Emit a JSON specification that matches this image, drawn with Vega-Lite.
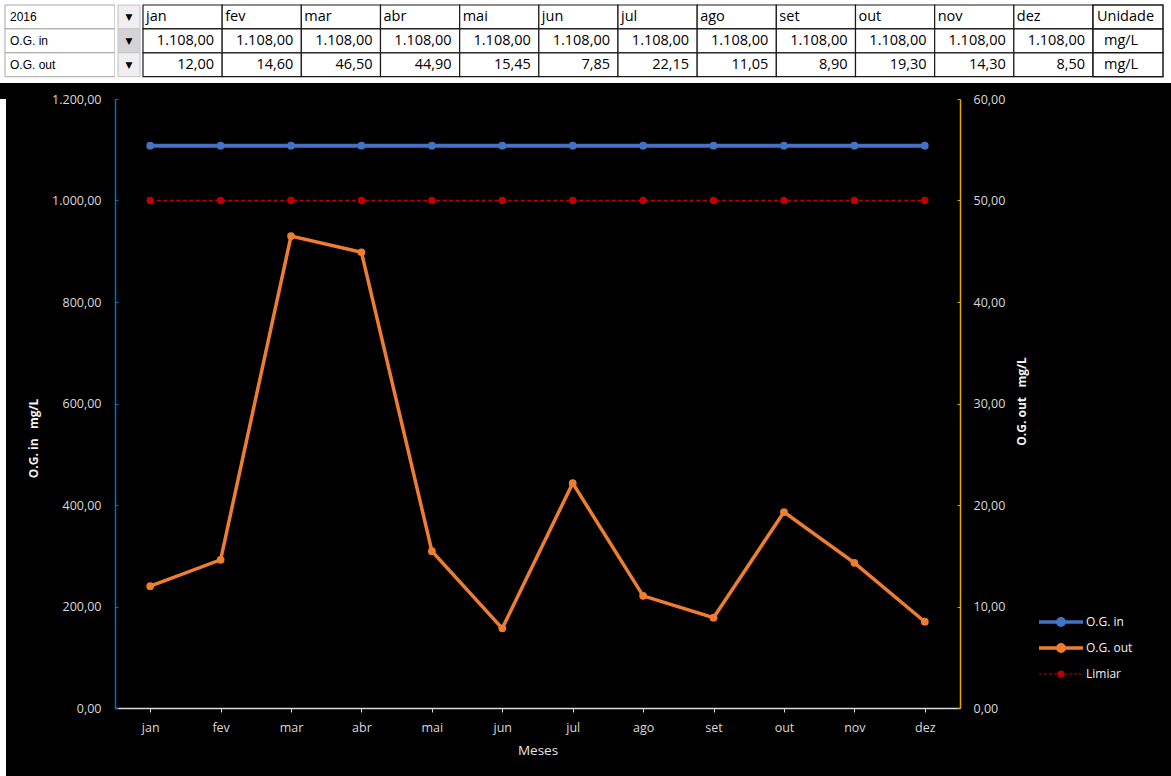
{
  "$schema": "https://vega.github.io/schema/vega-lite/v6.json",
  "background": "black",
  "padding": 0,
  "spacing": 10,
  "datasets": {
    "meses": [
      {"mes": "jan", "og_in": 1108, "og_out": 12.00, "limiar": 50},
      {"mes": "fev", "og_in": 1108, "og_out": 14.60, "limiar": 50},
      {"mes": "mar", "og_in": 1108, "og_out": 46.50, "limiar": 50},
      {"mes": "abr", "og_in": 1108, "og_out": 44.90, "limiar": 50},
      {"mes": "mai", "og_in": 1108, "og_out": 15.45, "limiar": 50},
      {"mes": "jun", "og_in": 1108, "og_out": 7.85, "limiar": 50},
      {"mes": "jul", "og_in": 1108, "og_out": 22.15, "limiar": 50},
      {"mes": "ago", "og_in": 1108, "og_out": 11.05, "limiar": 50},
      {"mes": "set", "og_in": 1108, "og_out": 8.90, "limiar": 50},
      {"mes": "out", "og_in": 1108, "og_out": 19.30, "limiar": 50},
      {"mes": "nov", "og_in": 1108, "og_out": 14.30, "limiar": 50},
      {"mes": "dez", "og_in": 1108, "og_out": 8.50, "limiar": 50}
    ],
    "linhas": [
      {"linha": "mes", "rotulo": "2016", "unidade": "Unidade"},
      {"linha": "og_in", "rotulo": "O.G. in", "unidade": "mg/L"},
      {"linha": "og_out", "rotulo": "O.G. out", "unidade": "mg/L"}
    ]
  },
  "vconcat": [
    {
      "spacing": 0,
      "bounds": "flush",
      "hconcat": [
        {
          "width": 115,
          "height": 83,
          "data": {"name": "linhas"},
          "view": {"fill": "white", "stroke": null},
          "encoding": {
            "x": {"datum": "r", "type": "nominal", "scale": {"paddingInner": 0, "paddingOuter": 0.0227, "align": 1}, "axis": null},
            "y": {"field": "linha", "type": "nominal", "scale": {"domain": ["mes", "og_in", "og_out"], "paddingInner": 0, "paddingOuter": 0.2365, "align": 0.4425}, "axis": null}
          },
          "layer": [
            {"mark": {"type": "rect", "fill": "white", "stroke": "#a6a6a6", "strokeWidth": 1}},
            {
              "mark": {"type": "text", "align": "left", "baseline": "middle", "dx": 5, "font": "Liberation Sans", "fontSize": 12, "color": "black"},
              "encoding": {
                "x": {"datum": "r", "type": "nominal", "bandPosition": 0, "scale": {"paddingInner": 0, "paddingOuter": 0.0227, "align": 1}, "axis": null},
                "text": {"field": "rotulo"}
              }
            }
          ]
        },
        {
          "width": 28,
          "height": 83,
          "data": {"name": "linhas"},
          "view": {"fill": "white", "stroke": null},
          "encoding": {
            "x": {"datum": "a", "type": "nominal", "scale": {"paddingInner": 0, "paddingOuter": 0.13636, "align": 0.5}, "axis": null},
            "y": {"field": "linha", "type": "nominal", "scale": {"domain": ["mes", "og_in", "og_out"], "paddingInner": 0, "paddingOuter": 0.2365, "align": 0.4425}, "axis": null}
          },
          "layer": [
            {
              "mark": {"type": "rect", "stroke": "#c4c4c4", "strokeWidth": 1},
              "encoding": {"fill": {"condition": {"test": "datum.linha === 'og_in'", "value": "#d4d4d4"}, "value": "#efefef"}}
            },
            {"mark": {"type": "text", "text": "▼", "align": "center", "baseline": "middle", "font": "DejaVu Sans", "fontSize": 9, "color": "black"}}
          ]
        },
        {
          "width": 950,
          "height": 83,
          "data": {"name": "meses"},
          "view": {"fill": "white", "stroke": null},
          "encoding": {
            "x": {"field": "mes", "type": "nominal", "scale": {"domain": ["jan", "fev", "mar", "abr", "mai", "jun", "jul", "ago", "set", "out", "nov", "dez"], "paddingInner": 0, "paddingOuter": 0}, "axis": null},
            "y": {"datum": "mes", "type": "nominal", "scale": {"domain": ["mes", "og_in", "og_out"], "paddingInner": 0, "paddingOuter": 0.2365, "align": 0.4425}, "axis": null}
          },
          "layer": [
            {"mark": {"type": "rect", "fill": "white", "stroke": "#1a1a1a", "strokeWidth": 1.2}},
            {
              "mark": {"type": "rect", "fill": "white", "stroke": "#1a1a1a", "strokeWidth": 1.2},
              "encoding": {"y": {"datum": "og_in", "type": "nominal", "scale": {"domain": ["mes", "og_in", "og_out"], "paddingInner": 0, "paddingOuter": 0.2365, "align": 0.4425}, "axis": null}}
            },
            {
              "mark": {"type": "rect", "fill": "white", "stroke": "#1a1a1a", "strokeWidth": 1.2},
              "encoding": {"y": {"datum": "og_out", "type": "nominal", "scale": {"domain": ["mes", "og_in", "og_out"], "paddingInner": 0, "paddingOuter": 0.2365, "align": 0.4425}, "axis": null}}
            },
            {
              "mark": {"type": "text", "align": "left", "baseline": "middle", "dx": 3, "font": "Open Sans", "fontSize": 14.5, "color": "black"},
              "encoding": {
                "x": {"field": "mes", "type": "nominal", "bandPosition": 0, "scale": {"domain": ["jan", "fev", "mar", "abr", "mai", "jun", "jul", "ago", "set", "out", "nov", "dez"], "paddingInner": 0, "paddingOuter": 0}, "axis": null},
                "text": {"field": "mes"}
              }
            },
            {
              "mark": {"type": "text", "align": "right", "baseline": "middle", "dx": -8, "font": "Open Sans", "fontSize": 14.5, "color": "black"},
              "encoding": {
                "x": {"field": "mes", "type": "nominal", "bandPosition": 1, "scale": {"domain": ["jan", "fev", "mar", "abr", "mai", "jun", "jul", "ago", "set", "out", "nov", "dez"], "paddingInner": 0, "paddingOuter": 0}, "axis": null},
                "y": {"datum": "og_in", "type": "nominal", "scale": {"domain": ["mes", "og_in", "og_out"], "paddingInner": 0, "paddingOuter": 0.2365, "align": 0.4425}, "axis": null},
                "text": {"field": "og_in", "format": ",.2f"}
              }
            },
            {
              "mark": {"type": "text", "align": "right", "baseline": "middle", "dx": -8, "font": "Open Sans", "fontSize": 14.5, "color": "black"},
              "encoding": {
                "x": {"field": "mes", "type": "nominal", "bandPosition": 1, "scale": {"domain": ["jan", "fev", "mar", "abr", "mai", "jun", "jul", "ago", "set", "out", "nov", "dez"], "paddingInner": 0, "paddingOuter": 0}, "axis": null},
                "y": {"datum": "og_out", "type": "nominal", "scale": {"domain": ["mes", "og_in", "og_out"], "paddingInner": 0, "paddingOuter": 0.2365, "align": 0.4425}, "axis": null},
                "text": {"field": "og_out", "format": ",.2f"}
              }
            }
          ]
        },
        {
          "width": 78,
          "height": 83,
          "data": {"name": "linhas"},
          "view": {"fill": "white", "stroke": null},
          "encoding": {
            "x": {"datum": "u", "type": "nominal", "scale": {"paddingInner": 0, "paddingOuter": 0.0571, "align": 0}, "axis": null},
            "y": {"field": "linha", "type": "nominal", "scale": {"domain": ["mes", "og_in", "og_out"], "paddingInner": 0, "paddingOuter": 0.2365, "align": 0.4425}, "axis": null}
          },
          "layer": [
            {"mark": {"type": "rect", "fill": "white", "stroke": "#1a1a1a", "strokeWidth": 1.5}},
            {
              "transform": [{"filter": "datum.linha === 'mes'"}],
              "mark": {"type": "text", "align": "left", "baseline": "middle", "dx": 4, "font": "Open Sans", "fontSize": 14.5, "color": "black"},
              "encoding": {
                "x": {"datum": "u", "type": "nominal", "bandPosition": 0, "scale": {"paddingInner": 0, "paddingOuter": 0.0571, "align": 0}, "axis": null},
                "text": {"field": "unidade"}
              }
            },
            {
              "transform": [{"filter": "datum.linha !== 'mes'"}],
              "mark": {"type": "text", "align": "left", "baseline": "middle", "dx": 11, "font": "Open Sans", "fontSize": 14.5, "color": "black"},
              "encoding": {
                "x": {"datum": "u", "type": "nominal", "bandPosition": 0, "scale": {"paddingInner": 0, "paddingOuter": 0.0571, "align": 0}, "axis": null},
                "text": {"field": "unidade"}
              }
            }
          ]
        }
      ]
    },
    {
      "spacing": 0,
      "bounds": "flush",
      "hconcat": [
        {
          "width": 6,
          "height": 677,
          "data": {"values": [{}]},
          "view": {"fill": "white", "stroke": null},
          "mark": {"type": "text", "text": ""}
        },
        {
          "width": 109,
          "height": 677,
          "data": {"values": [{}]},
          "view": {"fill": "black", "stroke": null},
          "mark": {"type": "text", "text": ""}
        },
        {
          "width": 845,
          "height": 609,
          "data": {"name": "meses"},
          "encoding": {
            "x": {
              "field": "mes",
              "type": "ordinal",
              "scale": {"type": "point", "padding": 0.5, "domain": ["jan", "fev", "mar", "abr", "mai", "jun", "jul", "ago", "set", "out", "nov", "dez"]},
              "axis": {
                "orient": "bottom",
                "title": "Meses",
                "labelAngle": 0,
                "domainColor": "#d9d9d9",
                "domainWidth": 1.5,
                "tickColor": "#d9d9d9",
                "tickSize": 4,
                "labelPadding": 9,
                "labelColor": "#d9d9d9",
                "labelFont": "Open Sans",
                "labelFontSize": 12.5,
                "titleColor": "#e6e6e6",
                "titleFont": "Open Sans",
                "titleFontSize": 13.5,
                "titleFontWeight": "normal",
                "titlePadding": 10
              }
            }
          },
          "layer": [
            {
              "mark": {"type": "line", "strokeWidth": 4, "point": {"filled": true, "size": 60}},
              "encoding": {
                "y": {
                  "field": "og_in",
                  "type": "quantitative",
                  "scale": {"domain": [0, 1200]},
                  "axis": {
                    "orient": "left",
                    "values": [0, 200, 400, 600, 800, 1000, 1200],
                    "format": ",.2f",
                    "grid": false,
                    "domainColor": "#0070C0",
                    "domainWidth": 1.5,
                    "tickColor": "#0070C0",
                    "tickSize": -3,
                    "labelPadding": 17,
                    "labelColor": "#d9d9d9",
                    "labelFont": "Open Sans",
                    "labelFontSize": 12.5,
                    "title": "O.G. in\u00a0\u00a0\u00a0mg/L",
                    "titleColor": "#f2f2f2",
                    "titleFont": "Open Sans",
                    "titleFontSize": 12,
                    "titleFontWeight": "bold",
                    "titleAngle": 270,
                    "titleX": -81.5,
                    "titleY": 339,
                    "titleAlign": "center",
                    "titleBaseline": "middle"
                  }
                },
                "color": {
                  "datum": "O.G. in",
                  "type": "nominal",
                  "scale": {"domain": ["O.G. in", "O.G. out", "Limiar"], "range": ["#4472C4", "#ED7D31", "#C00000"]},
                  "legend": {
                    "orient": "none",
                    "legendX": 1041,
                    "legendY": 616,
                    "title": null,
                    "direction": "vertical",
                    "padding": 0,
                    "gridAlign": "all",
                    "symbolType": "M-1,0L4.5,0M1.35,0A0.4,0.4,0,1,1,2.15,0A0.4,0.4,0,1,1,1.35,0",
                    "symbolSize": 256,
                    "symbolStrokeWidth": 3.5,
                    "labelFont": "Open Sans",
                    "labelFontSize": 12,
                    "labelColor": "#f2f2f2",
                    "labelOffset": 33,
                    "rowPadding": 4,
                    "encode": {
                      "symbols": {
                        "update": {
                          "fill": {"signal": "datum.value === 'Limiar' ? '#C00000' : datum.value === 'O.G. out' ? '#ED7D31' : '#4472C4'"},
                          "stroke": {"signal": "datum.value === 'Limiar' ? '#D00000' : datum.value === 'O.G. out' ? '#ED7D31' : '#4472C4'"},
                          "strokeWidth": {"signal": "datum.value === 'Limiar' ? 1.2 : 3.5"},
                          "strokeDash": {"signal": "datum.value === 'Limiar' ? [3, 2] : []"}
                        }
                      }
                    }
                  }
                }
              }
            },
            {
              "layer": [
                {
                  "mark": {"type": "line", "strokeWidth": 3.5, "point": {"filled": true, "size": 60}},
                  "encoding": {
                    "y": {
                      "field": "og_out",
                      "type": "quantitative",
                      "scale": {"domain": [0, 60]},
                      "axis": {
                        "orient": "right",
                        "values": [0, 10, 20, 30, 40, 50, 60],
                        "format": ",.2f",
                        "grid": false,
                        "domainColor": "#E6A800",
                        "domainWidth": 1.5,
                        "tickColor": "#E6A800",
                        "tickSize": -3,
                        "labelPadding": 16,
                        "labelColor": "#d9d9d9",
                        "labelFont": "Open Sans",
                        "labelFontSize": 12.5,
                        "title": "O.G. out\u00a0\u00a0\u00a0mg/L",
                        "titleColor": "#f2f2f2",
                        "titleFont": "Open Sans",
                        "titleFontSize": 12,
                        "titleFontWeight": "bold",
                        "titleAngle": 270,
                        "titleX": 61.5,
                        "titleY": 302,
                        "titleAlign": "center",
                        "titleBaseline": "middle"
                      }
                    },
                    "color": {"datum": "O.G. out", "type": "nominal"}
                  }
                },
                {
                  "mark": {"type": "line", "strokeWidth": 1.5, "strokeDash": [4, 2.5], "point": {"filled": true, "size": 55}},
                  "encoding": {
                    "y": {
                      "field": "limiar",
                      "type": "quantitative",
                      "scale": {"domain": [0, 60]},
                      "axis": {
                        "orient": "right",
                        "values": [0, 10, 20, 30, 40, 50, 60],
                        "format": ",.2f",
                        "grid": false,
                        "domainColor": "#E6A800",
                        "domainWidth": 1.5,
                        "tickColor": "#E6A800",
                        "tickSize": -3,
                        "labelPadding": 16,
                        "labelColor": "#d9d9d9",
                        "labelFont": "Open Sans",
                        "labelFontSize": 12.5,
                        "title": "O.G. out\u00a0\u00a0\u00a0mg/L",
                        "titleColor": "#f2f2f2",
                        "titleFont": "Open Sans",
                        "titleFontSize": 12,
                        "titleFontWeight": "bold",
                        "titleAngle": 270,
                        "titleX": 61.5,
                        "titleY": 302,
                        "titleAlign": "center",
                        "titleBaseline": "middle"
                      }
                    },
                    "color": {"datum": "Limiar", "type": "nominal"}
                  }
                }
              ]
            }
          ],
          "resolve": {"scale": {"y": "independent"}}
        }
      ]
    }
  ],
  "config": {
    "view": {"stroke": null},
    "font": "Open Sans",
    "locale": {"number": {"decimal": ",", "thousands": ".", "grouping": [3], "currency": ["R$", ""]}}
  }
}
